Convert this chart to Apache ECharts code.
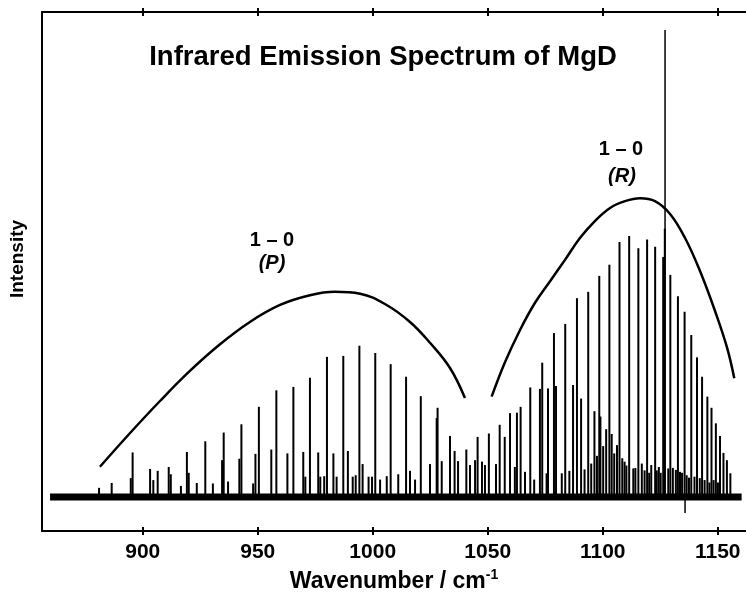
<!DOCTYPE html>
<html><head><meta charset="utf-8">
<script src="https://cdn.jsdelivr.net/npm/echarts@6/dist/echarts.min.js"></script>
<style>html,body{margin:0;padding:0;background:#fff}#c{width:746px;height:592px}</style>
</head><body><div id="c"></div>
<script>
const tickValues = [900, 950, 1000, 1050, 1100, 1150];
const titleText = 'Infrared Emission Spectrum of MgD';
const xName = 'Wavenumber / cm';
const yName = 'Intensity';
// line positions (cm-1) and heights (arb.)
const peakPos = [881.0,886.5,894.8,895.6,903.2,904.6,906.5,911.3,912.2,916.6,919.2,920.0,923.5,927.2,930.5,934.5,935.2,937.1,942.0,942.9,948.0,949.0,950.5,955.9,958.1,962.9,965.5,969.8,970.7,972.7,976.3,977.2,978.9,980.1,982.9,984.3,987.2,989.2,991.3,992.6,994.2,995.6,998.2,999.7,1001.1,1003.2,1006.1,1007.8,1011.1,1014.5,1016.2,1018.4,1020.9,1024.9,1027.8,1028.2,1030.0,1033.6,1035.6,1037.1,1040.7,1042.3,1044.5,1045.6,1047.5,1048.8,1050.5,1053.6,1055.2,1057.4,1059.7,1061.8,1062.7,1064.3,1066.2,1068.5,1070.2,1072.7,1073.7,1075.6,1076.2,1078.8,1079.7,1082.2,1083.7,1085.5,1087.1,1088.8,1090.6,1092.1,1093.7,1095.0,1096.4,1097.5,1098.5,1099.0,1100.2,1101.5,1102.9,1103.9,1105.0,1106.2,1107.3,1108.5,1109.5,1110.3,1111.5,1113.3,1114.2,1115.5,1117.0,1118.2,1119.3,1120.2,1121.1,1122.8,1123.5,1124.4,1125.2,1126.3,1127.0,1128.5,1129.4,1130.5,1131.8,1132.7,1133.6,1134.5,1135.6,1136.5,1137.5,1138.5,1139.9,1141.0,1142.2,1143.2,1144.3,1145.5,1146.4,1147.3,1148.2,1149.2,1150.1,1151.0,1152.5,1154.0,1155.5];
const peakHeight = [1.9,2.9,3.9,9.2,5.8,3.5,5.4,6.2,4.7,2.3,9.3,5.0,2.9,11.5,2.8,7.6,13.3,3.2,7.9,15.0,2.8,8.9,18.6,9.8,22.0,9.0,22.7,9.3,4.2,24.6,9.2,4.2,4.3,28.9,9.0,4.2,29.1,9.5,4.2,4.5,31.2,6.8,4.2,4.2,29.7,3.6,4.3,27.4,4.7,24.8,5.4,3.6,20.8,6.8,16.3,18.4,7.4,12.6,9.5,7.4,9.8,6.6,7.6,12.4,7.3,6.6,13.1,6.8,14.9,12.4,17.3,6.2,17.4,18.6,5.2,22.6,3.6,22.3,27.7,4.9,22.4,33.8,22.9,4.9,35.7,5.4,23.1,41.0,20.3,5.7,42.3,6.9,17.7,8.5,45.6,16.6,10.5,14.0,47.9,13.0,9.0,10.7,52.6,8.0,7.3,6.5,53.8,5.9,6.0,51.3,6.9,5.5,53.1,5.0,6.6,51.6,5.5,6.2,5.0,49.5,55.3,5.9,45.8,6.0,5.6,41.4,5.2,5.0,38.2,4.5,4.0,33.4,4.2,28.8,3.9,24.8,3.5,20.7,3.0,18.4,3.5,15.2,3.0,12.6,9.1,7.6,4.9];
const markerLine = [[1127.1, 0], [1127.1, 96.3]];
const dipLine = [[1135.8, 0], [1135.8, -3.3]];
const baseX = [859.7, 1160.4];
// envelope curves
const pArcX = [881.4, 894.5, 907.5, 920.5, 933.6, 946.6, 959.7, 972.7, 983.6, 994.5, 1005.3, 1016.2, 1024.9, 1033.6, 1040.1];
const pArcY = [6.25, 13.2, 19.8, 26.0, 31.5, 36.1, 39.6, 41.6, 42.3, 41.9, 39.8, 36.1, 31.8, 26.6, 20.4];
const rArcX = [1051.7, 1057.5, 1064.0, 1070.5, 1077.1, 1083.6, 1090.1, 1096.6, 1103.2, 1109.7, 1116.2, 1122.7, 1129.2, 1135.8, 1142.3, 1148.8, 1154.0, 1157.2];
const rArcY = [20.7, 27.8, 34.4, 40.0, 44.5, 48.9, 53.4, 56.9, 59.6, 61.0, 61.6, 61.0, 58.4, 53.4, 46.6, 38.4, 30.9, 24.5];
const labP = ['1 \u2013 0', '(P)'];
const labR = ['1 \u2013 0', '(R)'];

const FONT = '"Liberation Sans", Arial, sans-serif';
const chart = echarts.init(document.getElementById('c'), null, {renderer: 'canvas'});
const XMIN = 856.2, XMAX = 1162.3;
const peaks = peakPos.map((p, i) => [p, peakHeight[i]]);
const stick = (w) => function (params, api) {
  const x = api.value(0), h = api.value(1);
  const a = api.coord([x, 0]), b = api.coord([x, h]);
  return {type: 'line', shape: {x1: a[0], y1: a[1], x2: b[0], y2: b[1]}, style: {stroke: '#000', lineWidth: w}};
};
const baseAxis = {type: 'value', min: XMIN, max: XMAX, splitLine: {show: false}};
const tickStyle = {color: '#000', width: 2};
chart.setOption({
  animation: false,
  backgroundColor: '#fff',
  grid: {left: 42, right: 0, top: 12, bottom: 61, containLabel: false, outerBoundsMode: 'none'},
  xAxis: [
    Object.assign({}, baseAxis, {
      position: 'bottom',
      axisLine: {onZero: false, lineStyle: {color: '#000', width: 2}},
      axisTick: {customValues: tickValues, length: 4, lineStyle: tickStyle},
      axisLabel: {customValues: tickValues, formatter: v => String(v), color: '#000', fontSize: 21, fontWeight: 'bold', fontFamily: FONT, margin: 11},
      name: xName + '{sup|-1}', nameLocation: 'middle', nameGap: 37,
      nameTextStyle: {color: '#000', fontSize: 23, fontWeight: 'bold', fontFamily: FONT,
        rich: {sup: {fontSize: 14, fontWeight: 'bold', fontFamily: FONT, color: '#000', verticalAlign: 'top', padding: [0, 0, 14, 0]}}}
    }),
    Object.assign({}, baseAxis, {
      position: 'bottom', axisLine: {show: false, onZero: false},
      axisTick: {customValues: tickValues, inside: true, length: 4, lineStyle: tickStyle},
      axisLabel: {show: false}
    }),
    Object.assign({}, baseAxis, {
      position: 'top',
      axisLine: {onZero: false, lineStyle: {color: '#000', width: 2}},
      axisTick: {customValues: tickValues, length: 4, lineStyle: tickStyle},
      axisLabel: {show: false}
    }),
    Object.assign({}, baseAxis, {
      position: 'top', axisLine: {show: false, onZero: false},
      axisTick: {customValues: tickValues, inside: true, length: 4, lineStyle: tickStyle},
      axisLabel: {show: false}
    })
  ],
  yAxis: {type: 'value', min: -7, max: 100, splitLine: {show: false},
    axisLine: {show: true, onZero: false, lineStyle: {color: '#000', width: 2}}, axisTick: {show: false}, axisLabel: {show: false}},
  graphic: [
    {type: 'text', x: 383, y: 57, style: {text: titleText, fill: '#000', font: 'bold 27.5px ' + FONT, textAlign: 'center', textVerticalAlign: 'middle'}},
    {type: 'text', x: 18, y: 259, rotation: Math.PI / 2, style: {text: yName, fill: '#000', font: 'bold 19px ' + FONT, textAlign: 'center', textVerticalAlign: 'middle'}},
    {type: 'text', x: 272, y: 240, style: {text: labP[0], fill: '#000', font: 'bold 20px ' + FONT, textAlign: 'center', textVerticalAlign: 'middle'}},
    {type: 'text', x: 272, y: 263, style: {text: labP[1], fill: '#000', font: 'italic bold 20px ' + FONT, textAlign: 'center', textVerticalAlign: 'middle'}},
    {type: 'text', x: 621, y: 149, style: {text: labR[0], fill: '#000', font: 'bold 20px ' + FONT, textAlign: 'center', textVerticalAlign: 'middle'}},
    {type: 'text', x: 622, y: 176, style: {text: labR[1], fill: '#000', font: 'italic bold 20px ' + FONT, textAlign: 'center', textVerticalAlign: 'middle'}}
  ],
  series: [
    {type: 'line', data: baseX.map(x => [x, 0]), symbol: 'none', lineStyle: {color: '#000', width: 7}, z: 2},
    {type: 'custom', data: peaks, renderItem: stick(2), z: 3},
    {type: 'custom', data: markerLine.slice(1), renderItem: stick(1.5), z: 4},
    {type: 'custom', data: dipLine.slice(1), renderItem: stick(1.5), z: 4},
    {type: 'line', data: pArcX.map((x, i) => [x, pArcY[i]]), smooth: 0.4, symbol: 'none', lineStyle: {color: '#000', width: 2.5}, z: 5},
    {type: 'line', data: rArcX.map((x, i) => [x, rArcY[i]]), smooth: 0.4, symbol: 'none', lineStyle: {color: '#000', width: 2.5}, z: 5}
  ]
});
</script></body></html>
